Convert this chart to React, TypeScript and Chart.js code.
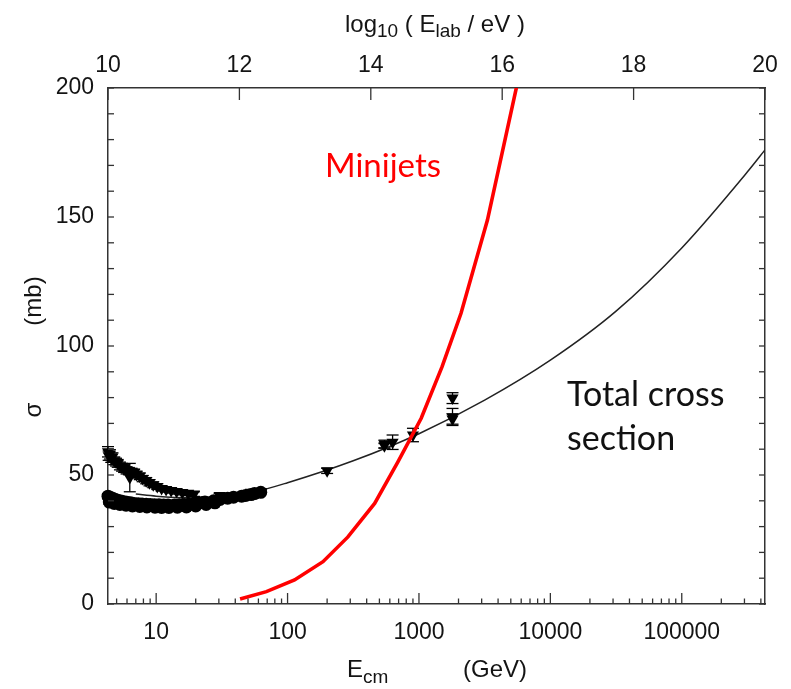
import React, { useEffect, useRef } from "react";
import { Chart, registerables } from "chart.js";

Chart.register(...registerables);

// Total cross section (fit curve), sigma in mb vs E_cm in GeV
const totalEcm = [7, 10, 17.8, 31.6, 56.2, 100, 316, 1000, 3162, 10000, 31620, 100000, 316200, 430000];
const totalSigma = [42.6, 41.8, 41.2, 41.8, 43.5, 47, 55.5, 66, 79, 94.5, 113.5, 138, 167.5, 176];

// Minijet cross section
const minijetEcm = [43.5, 69, 113, 186, 288, 460, 690, 1040, 1500, 2090, 3320, 7940];
const minijetSigma = [1.9, 4.8, 9.3, 16.4, 26, 39, 55, 72, 92, 112.7, 148.8, 237];

// pp data (circles)
const ppEcm = [
  4.3, 4.5, 4.7, 4.9, 5.1, 5.4, 5.7, 6.0, 6.4, 6.8, 7.3, 7.8, 8.4, 9.0, 9.7, 10.5, 11.4, 12.3, 13.8, 15.0, 16.3, 17.7,
  19.4, 21.0, 22.5, 23.5, 27.4, 30.6, 35.0, 38.8, 44.7, 48.0, 52.8, 56.0, 62.5,
  4.4, 4.8, 5.3, 5.9, 6.6, 7.5, 8.5, 9.8, 11.0, 12.5, 14.5, 17.0, 20.0, 24.0, 28.0,
];
const ppSigma = [
  41.8, 41.3, 40.9, 40.5, 40.2, 39.9, 39.6, 39.4, 39.2, 39.0, 38.9, 38.8, 38.7, 38.6, 38.5, 38.5, 38.4, 38.4, 38.4, 38.5, 38.6, 38.7,
  38.9, 39.1, 39.3, 39.5, 40.0, 40.5, 41.0, 41.4, 41.8, 42.1, 42.4, 42.8, 43.3,
  39.5, 39.0, 38.6, 38.3, 38.0, 37.8, 37.6, 37.5, 37.4, 37.4, 37.5, 37.6, 38.0, 38.6, 39.2,
];
const ppErr = [
  1.0, 1.0, 0.9, 0.9, 0.8, 0.8, 0.7, 0.7, 0.6, 0.6, 0.6, 0.5, 0.5, 0.5, 0.5, 0.5, 0.5, 0.5, 0.5, 0.5, 0.5, 0.5,
  0.5, 0.5, 0.5, 0.4, 0.4, 0.4, 0.4, 0.4, 0.4, 0.4, 0.4, 0.4, 0.4,
  0.8, 0.8, 0.7, 0.7, 0.6, 0.6, 0.5, 0.5, 0.5, 0.5, 0.5, 0.5, 0.5, 0.5, 0.5,
];

// pbar-p data (down triangles)
const pbarEcm = [
  4.3, 4.35, 4.45, 4.55, 4.65, 4.8, 4.95, 5.1, 5.3, 5.5, 5.7, 5.95, 6.2, 6.3, 6.5, 6.8, 7.1, 7.5, 7.9, 8.4, 8.9, 9.5,
  10.2, 11.0, 11.9, 13.0, 14.3, 15.8, 17.5, 19.4, 30.4, 52.6, 62.7, 200, 546, 546, 630, 900, 1800, 1800, 1800,
];
const pbarSigma = [
  59, 57.5, 58, 56.5, 57, 55.5, 55, 54.5, 53.5, 53, 52.5, 51.8, 51.5, 49, 51.2, 51, 50.2, 49.5, 48.6, 47.8, 47, 46.2,
  45.5, 44.8, 44.4, 44, 43.6, 43.2, 42.9, 42.6, 42.1, 43.3, 43.6, 51.6, 61.3, 62.0, 62.7, 65.5, 71.7, 72.5, 79.8,
];
const pbarErr = [
  2.0, 1.8, 1.8, 1.6, 1.6, 1.5, 1.5, 1.5, 1.5, 1.5, 1.5, 1.4, 1.4, 5.5, 1.4, 1.3, 1.3, 1.3, 1.2, 1.2, 1.2, 1.1,
  1.1, 1.0, 1.0, 1.0, 1.0, 0.9, 0.9, 0.9, 0.8, 0.8, 0.8, 1.0, 0.9, 1.5, 2.8, 2.6, 2.0, 3.3, 2.1,
];

// Tick values
const bottomTicks = [10, 100, 1000, 10000, 100000];
const topTicks = [10, 12, 14, 16, 18, 20];
const leftTicks = [0, 50, 100, 150, 200];
const yMinorStep = 10;

const AXIS = "#333333";
const TEXT = "#141414";
const SANS = "'Liberation Sans', Arial, Helvetica, sans-serif";
const NOTE = "Lato, 'Open Sans', sans-serif";

function line(ctx: CanvasRenderingContext2D, x1: number, y1: number, x2: number, y2: number) {
  ctx.beginPath();
  ctx.moveTo(x1, y1);
  ctx.lineTo(x2, y2);
  ctx.stroke();
}

const errorBars = {
  id: "errorBars",
  beforeDatasetsDraw(chart: any) {
    const ctx = chart.ctx as CanvasRenderingContext2D;
    const xs = chart.scales.x;
    const ys = chart.scales.y;
    ctx.save();
    ctx.strokeStyle = "#000";
    ctx.lineWidth = 1.3;
    const sets: [number[], number[], number[]][] = [
      [ppEcm, ppSigma, ppErr],
      [pbarEcm, pbarSigma, pbarErr],
    ];
    for (const [ex, sy, er] of sets) {
      for (let i = 0; i < ex.length; i++) {
        const px = xs.getPixelForValue(ex[i]);
        const top = ys.getPixelForValue(sy[i] + er[i]);
        const bot = ys.getPixelForValue(sy[i] - er[i]);
        line(ctx, px, top, px, bot);
        line(ctx, px - 6, top, px + 6, top);
        line(ctx, px - 6, bot, px + 6, bot);
      }
    }
    ctx.restore();
  },
};

const decor = {
  id: "decor",
  afterDraw(chart: any) {
    const ctx = chart.ctx as CanvasRenderingContext2D;
    const { x, x2, y, y2 } = chart.scales;
    const ca = chart.chartArea;
    ctx.save();
    ctx.strokeStyle = AXIS;
    ctx.lineWidth = 1.3;
    // bottom log ticks (inward)
    for (let e = 0; e <= 6; e++) {
      for (let k = 1; k <= 9; k++) {
        const v = k * Math.pow(10, e);
        if (v < x.min || v > x.max) continue;
        const px = x.getPixelForValue(v);
        const len = k === 1 ? 11 : 5.5;
        line(ctx, px, ca.bottom, px, ca.bottom - len);
      }
    }
    // top ticks
    for (const v of topTicks) {
      const px = x2.getPixelForValue(v);
      line(ctx, px, ca.top, px, ca.top + 12);
    }
    // left / right ticks
    for (let v = y.min; v <= y.max; v += yMinorStep) {
      const py = y.getPixelForValue(v);
      line(ctx, ca.left, py, ca.left + 6, py);
      const py2 = y2.getPixelForValue(v);
      line(ctx, ca.right, py2, ca.right - 6, py2);
    }

    // Axis titles
    ctx.fillStyle = TEXT;
    ctx.textBaseline = "alphabetic";
    ctx.textAlign = "left";
    const pieces = (parts: [string, number, number][], x0: number, base: number) => {
      let cx = x0;
      for (const [t, size, dy] of parts) {
        ctx.font = `${size}px ${SANS}`;
        ctx.fillText(t, cx, base + dy);
        cx += ctx.measureText(t).width;
      }
    };
    // top title
    pieces(
      [
        ["log", 24, 0],
        ["10", 19, 5],
        [" ( E", 24, 0],
        ["lab", 19, 5],
        [" / eV )", 24, 0],
      ],
      ca.left + 237,
      32
    );
    // bottom title
    pieces(
      [
        ["E", 24, 0],
        ["cm", 19, 6],
      ],
      ca.left + 239,
      677
    );
    ctx.font = `24px ${SANS}`;
    ctx.fillText("(GeV)", ca.left + 355, 677);

    // left rotated title
    ctx.save();
    ctx.translate(41, 0);
    ctx.rotate(-Math.PI / 2);
    ctx.textAlign = "center";
    ctx.font = `24px ${SANS}`;
    ctx.fillText("σ", -410, 0);
    ctx.fillText("(mb)", -301, 0);
    ctx.restore();

    // annotations
    ctx.font = `33px ${NOTE}`;
    ctx.fillStyle = "#ff0000";
    ctx.fillText("Minijets", ca.left + 217, 177);
    ctx.fillStyle = "#111";
    ctx.font = `34px ${NOTE}`;
    ctx.fillText("Total cross", ca.left + 459, 406);
    ctx.fillText("section", ca.left + 459, 450);
    ctx.restore();
  },
};

export default function App() {
  const ref = useRef<HTMLCanvasElement>(null);
  useEffect(() => {
    const canvas = ref.current!;
    const toXY = (xs: number[], ys: number[]) => xs.map((v, i) => ({ x: v, y: ys[i] }));
    const tickFont = { family: SANS, size: 23 };
    const chart = new Chart(canvas, {
      type: "scatter",
      data: {
        datasets: [
          {
            label: "Minijets",
            data: toXY(minijetEcm, minijetSigma),
            showLine: true,
            borderColor: "#ff0000",
            borderWidth: 3.6,
            pointRadius: 0,
            tension: 0,
            order: 0,
          } as any,
          {
            label: "pbar-p",
            data: toXY(pbarEcm, pbarSigma),
            pointStyle: "triangle",
            rotation: 180,
            pointRadius: 7,
            backgroundColor: "#000",
            borderColor: "#000",
            borderWidth: 0,
            clip: 10,
            order: 1,
          },
          {
            label: "pp",
            data: toXY(ppEcm, ppSigma),
            pointStyle: "circle",
            pointRadius: 6.5,
            backgroundColor: "#000",
            borderColor: "#000",
            borderWidth: 0,
            clip: 10,
            order: 2,
          },
          {
            label: "Total",
            data: toXY(totalEcm, totalSigma),
            showLine: true,
            borderColor: "#222",
            borderWidth: 1.5,
            pointRadius: 0,
            cubicInterpolationMode: "monotone",
            order: 3,
          } as any,
        ],
      },
      options: {
        responsive: false,
        animation: false,
        events: [],
        layout: { padding: 0 },
        plugins: { legend: { display: false }, tooltip: { enabled: false } },
        scales: {
          x: {
            type: "logarithmic",
            position: "bottom",
            min: 4.3,
            max: 430000,
            grid: { display: false, drawTicks: false },
            border: { display: true, color: AXIS, width: 1.5 },
            ticks: {
              font: tickFont,
              color: TEXT,
              padding: 15,
              maxRotation: 0,
              autoSkip: false,
              callback: (v: any) => String(v),
            },
            afterBuildTicks: (s: any) => {
              s.ticks = bottomTicks.map((v) => ({ value: v }));
            },
            afterFit: (s: any) => {
              s.height = 85;
            },
          },
          x2: {
            type: "linear",
            position: "top",
            min: 10,
            max: 20,
            grid: { display: false, drawTicks: false },
            border: { display: true, color: AXIS, width: 1.5 },
            ticks: {
              font: tickFont,
              color: TEXT,
              padding: 9,
              maxRotation: 0,
              autoSkip: false,
              callback: (v: any) => String(v),
            },
            afterBuildTicks: (s: any) => {
              s.ticks = topTicks.map((v) => ({ value: v }));
            },
            afterFit: (s: any) => {
              s.height = 88;
            },
          },
          y: {
            type: "linear",
            position: "left",
            min: 0,
            max: 200,
            grid: { display: false, drawTicks: false },
            border: { display: true, color: AXIS, width: 1.5 },
            ticks: { font: tickFont, color: TEXT, padding: 14, callback: (v: any) => String(v) },
            afterBuildTicks: (s: any) => {
              s.ticks = leftTicks.map((v) => ({ value: v }));
            },
            afterFit: (s: any) => {
              s.width = 108;
            },
          },
          y2: {
            type: "linear",
            position: "right",
            min: 0,
            max: 200,
            grid: { display: false, drawTicks: false },
            border: { display: true, color: AXIS, width: 1.5 },
            ticks: { display: false },
            afterFit: (s: any) => {
              s.width = 26;
            },
          },
        },
      },
      plugins: [errorBars, decor],
    });
    return () => chart.destroy();
  }, []);
  return (
    <div style={{ position: "absolute", left: 0, top: 0, width: 791, height: 689, background: "#fff" }}>
      <canvas ref={ref} width={791} height={689} style={{ display: "block" }} />
    </div>
  );
}
